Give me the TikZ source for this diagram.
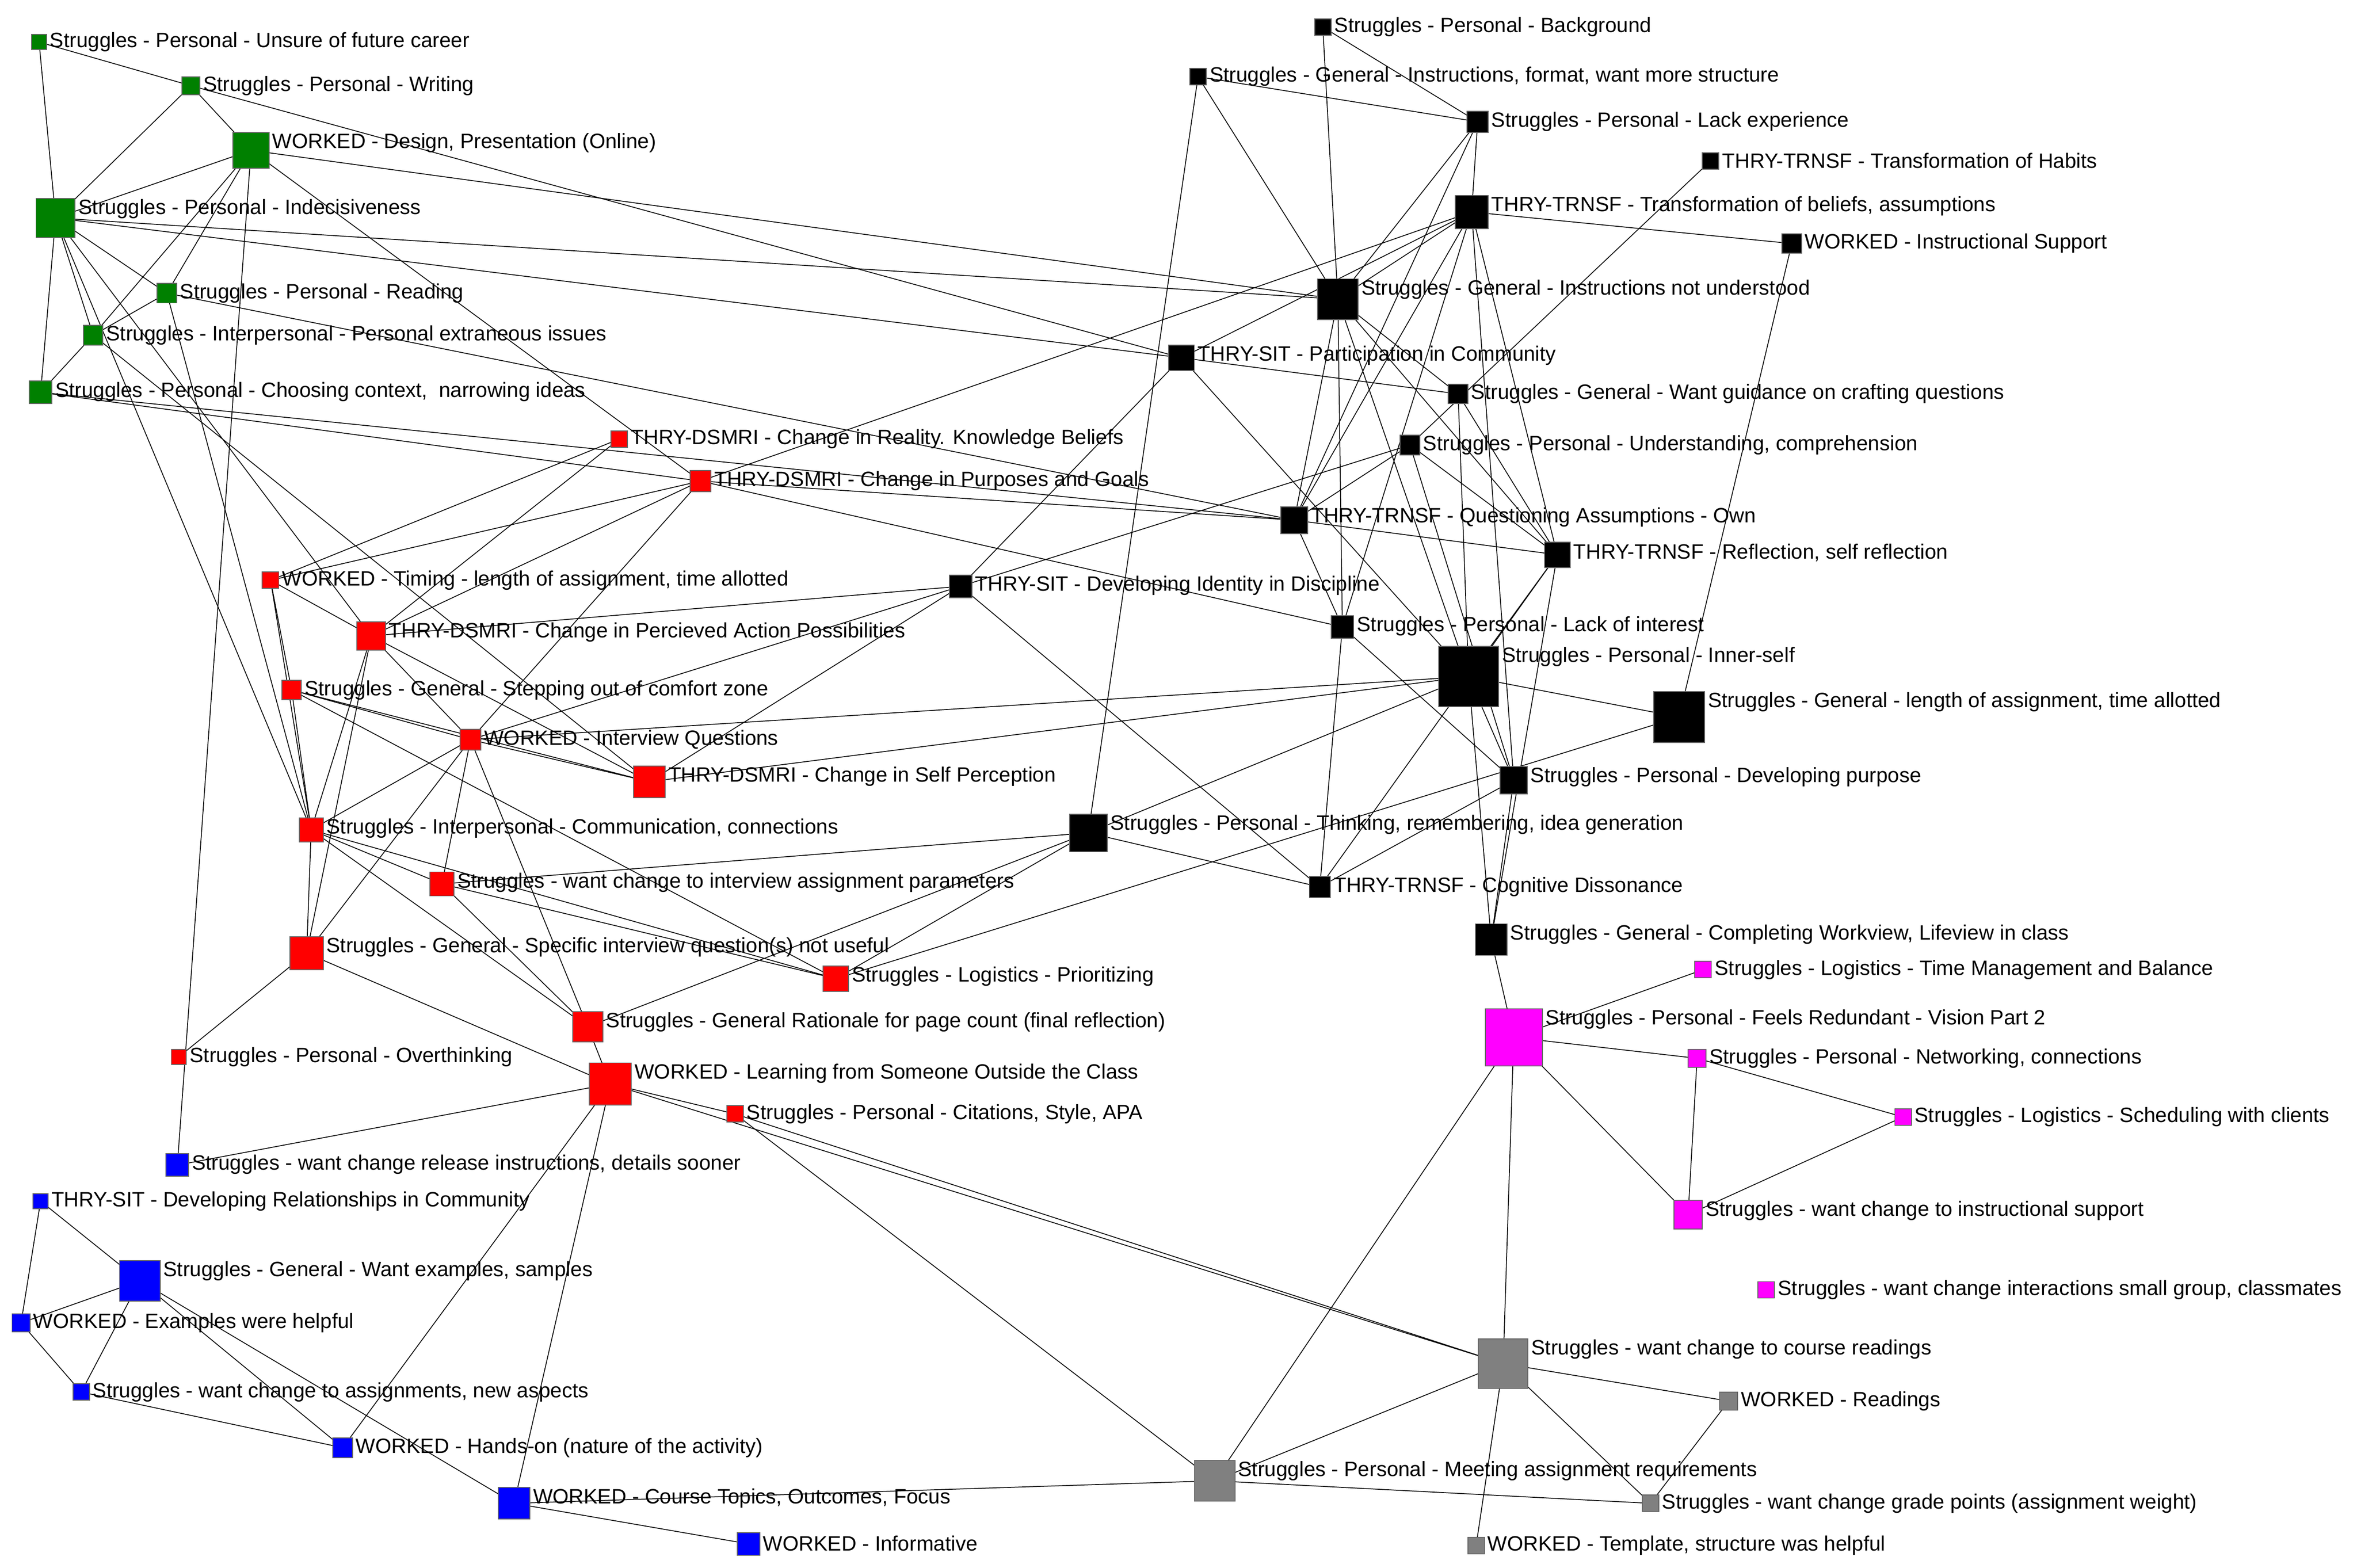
\documentclass[tikz,border=0pt]{standalone}
\usepackage{fontspec}
\setmainfont{Liberation Sans}
\usetikzlibrary{backgrounds}
\definecolor{cg}{HTML}{008000}
\definecolor{cr}{HTML}{FF0000}
\definecolor{ck}{HTML}{000000}
\definecolor{cm}{HTML}{FF00FF}
\definecolor{cb}{HTML}{0000FF}
\definecolor{cy}{HTML}{808080}
\tikzset{nd/.style={draw=black!60,line width=0.6pt,inner sep=0pt,outer sep=0pt},
lbl/.style={anchor=west,inner sep=0pt,font=\fontsize{13.8}{16}\selectfont},
ed/.style={line width=0.55pt,black}}
\newcommand\nd[6]{\node[nd,fill=#5,minimum size=#4pt] (#1) at (#2,#3) {};
\pgfmathsetmacro\lblx{#2+#4/2+2}\pgfmathsetmacro\lbly{#3-#4/2+min(#4/2,7)}
\node[lbl] (#1l) at (\lblx,\lbly) {#6};}
\newcommand\E[2]{\foreach \t in {#2}{\draw[ed] (#1.center) -- (\t.center);}}
\begin{document}
\begin{tikzpicture}[x=1pt,y=-1pt]
\useasboundingbox (0,0) rectangle (1568,1043);
% green
\nd{g1}{26}{28}{10}{cg}{Struggles - Personal - Unsure of future career}
\nd{g2}{127}{57}{12}{cg}{Struggles - Personal - Writing}
\nd{g3}{167}{100}{24}{cg}{WORKED - Design, Presentation (Online)}
\nd{g4}{37}{145}{26}{cg}{Struggles - Personal - Indecisiveness}
\nd{g5}{111}{195}{13}{cg}{Struggles - Personal - Reading}
\nd{g6}{62}{223}{13}{cg}{Struggles - Interpersonal - Personal extraneous issues}
\nd{g7}{27}{261}{15}{cg}{Struggles - Personal - Choosing context, \ narrowing ideas}
% red
\nd{r1}{412}{292}{11}{cr}{THRY-DSMRI - Change in Reality. Knowledge Beliefs}
\nd{r2}{466}{320}{14}{cr}{THRY-DSMRI - Change in Purposes and Goals}
\nd{r3}{180}{386}{11}{cr}{WORKED - Timing - length of assignment, time allotted}
\nd{r4}{247}{423}{19}{cr}{THRY-DSMRI - Change in Percieved Action Possibilities}
\nd{r5}{194}{459}{13}{cr}{Struggles - General - Stepping out of comfort zone}
\nd{r6}{313}{492}{14}{cr}{WORKED - Interview Questions}
\nd{r7}{432}{520}{21}{cr}{THRY-DSMRI - Change in Self Perception}
\nd{r8}{207}{552}{16}{cr}{Struggles - Interpersonal - Communication, connections}
\nd{r9}{294}{588}{16}{cr}{Struggles - want change to interview assignment parameters}
\nd{r10}{204}{634}{22}{cr}{Struggles - General - Specific interview question(s) not useful}
\nd{r11}{556}{651}{17}{cr}{Struggles - Logistics - Prioritizing}
\nd{r12}{391}{683}{20}{cr}{Struggles - General Rationale for page count (final reflection)}
\nd{r13}{119}{703}{10}{cr}{Struggles - Personal - Overthinking}
\nd{r14}{406}{721}{28}{cr}{WORKED - Learning from Someone Outside the Class}
\nd{r15}{489}{741}{11}{cr}{Struggles - Personal - Citations, Style, APA}
% black
\nd{k1}{880}{18}{11}{ck}{Struggles - Personal - Background}
\nd{k2}{797}{51}{11}{ck}{Struggles - General - Instructions, format, want more structure}
\nd{k3}{983}{81}{14}{ck}{Struggles - Personal - Lack experience}
\nd{k4}{1138}{107}{11}{ck}{THRY-TRNSF - Transformation of Habits}
\nd{k5}{979}{141}{22}{ck}{THRY-TRNSF - Transformation of beliefs, assumptions}
\nd{k6}{1192}{162}{13}{ck}{WORKED - Instructional Support}
\nd{k7}{890}{199}{27}{ck}{Struggles - General - Instructions not understood}
\nd{k8}{786}{238}{17}{ck}{THRY-SIT - Participation in Community}
\nd{k9}{970}{262}{13}{ck}{Struggles - General - Want guidance on crafting questions}
\nd{k10}{938}{296}{13}{ck}{Struggles - Personal - Understanding, comprehension}
\nd{k11}{861}{346}{18}{ck}{THRY-TRNSF - Questioning Assumptions - Own}
\nd{k12}{1036}{369}{17}{ck}{THRY-TRNSF - Reflection, self reflection}
\nd{k13}{639}{390}{15}{ck}{THRY-SIT - Developing Identity in Discipline}
\nd{k14}{893}{417}{15}{ck}{Struggles - Personal - Lack of interest}
\nd{k15}{977}{450}{40}{ck}{Struggles - Personal - Inner-self}
\nd{k16}{1117}{477}{34}{ck}{Struggles - General - length of assignment, time allotted}
\nd{k17}{1007}{519}{18}{ck}{Struggles - Personal - Developing purpose}
\nd{k18}{724}{554}{25}{ck}{Struggles - Personal - Thinking, remembering, idea generation}
\nd{k19}{878}{590}{14}{ck}{THRY-TRNSF - Cognitive Dissonance}
\nd{k20}{992}{625}{21}{ck}{Struggles - General - Completing Workview, Lifeview in class}
% magenta
\nd{m1}{1133}{645}{11}{cm}{Struggles - Logistics - Time Management and Balance}
\nd{m2}{1007}{690}{38}{cm}{Struggles - Personal - Feels Redundant - Vision Part 2}
\nd{m3}{1129}{704}{12}{cm}{Struggles - Personal - Networking, connections}
\nd{m4}{1266}{743}{11}{cm}{Struggles - Logistics - Scheduling with clients}
\nd{m5}{1123}{808}{19}{cm}{Struggles - want change to instructional support}
\nd{m6}{1175}{858}{11}{cm}{Struggles - want change interactions small group, classmates}
% blue
\nd{b1}{118}{775}{15}{cb}{Struggles - want change release instructions, details sooner}
\nd{b2}{27}{799}{10}{cb}{THRY-SIT - Developing Relationships in Community}
\nd{b3}{93}{852}{27}{cb}{Struggles - General - Want examples, samples}
\nd{b4}{14}{880}{12}{cb}{WORKED - Examples were helpful}
\nd{b5}{54}{926}{11}{cb}{Struggles - want change to assignments, new aspects}
\nd{b6}{228}{963}{13}{cb}{WORKED - Hands-on (nature of the activity)}
\nd{b7}{342}{1000}{21}{cb}{WORKED - Course Topics, Outcomes, Focus}
\nd{b8}{498}{1027}{15}{cb}{WORKED - Informative}
% gray
\nd{y1}{1000}{907}{33}{cy}{Struggles - want change to course readings}
\nd{y2}{1150}{932}{12}{cy}{WORKED - Readings}
\nd{y3}{808}{985}{27}{cy}{Struggles - Personal - Meeting assignment requirements}
\nd{y4}{1098}{1000}{11}{cy}{Struggles - want change grade points (assignment weight)}
\nd{y5}{982}{1028}{11}{cy}{WORKED - Template, structure was helpful}
\begin{pgfonlayer}{background}
\fill[white] (0,0) rectangle (1568,1043);
\E{g1}{g4,g2}
\E{g2}{g4,g3,k8}
\E{g3}{g4,g5,g6,k7,r2,b1}
\E{g4}{k7,k8,g5,g6,g7,r4,r8}
\E{g5}{g6,k11,r8}
\E{g6}{r7,g7}
\E{g7}{r2,k11}
\E{r1}{r4,r3}
\E{r2}{r3,r4,r6,k11,k14,k5}
\E{r3}{r5,r4,r8}
\E{r4}{r6,r8,r10,r7,k13}
\E{r5}{r8,r6,r7,r11}
\E{r6}{r7,r8,r9,r10,k13}
\E{r7}{k13,k15}
\E{r8}{r9,r10,r11,r12}
\E{r9}{r12,k18,r11}
\E{r10}{r13,r14}
\E{r11}{k18,k16}
\E{r12}{r14,r6}
\E{r14}{r15,b7,b1,b6,y1}
\E{r15}{y1,y3}
\E{k1}{k7,k3}
\E{k2}{k3,k7,k18}
\E{k3}{k5,k7,k11}
\E{k5}{k7,k6,k8,k11,k14,k12,k17}
\E{k4}{k10}
\E{k6}{k16}
\E{k7}{k11,k14,k15,k12,k9}
\E{k8}{k9,k13,k15}
\E{k9}{k15,k12}
\E{k10}{k11,k12,k13,k17}
\E{k11}{k14,k12}
\E{k12}{k15,k19,k20}
\E{k13}{k19}
\E{k14}{k17,k19}
\E{k15}{k16,k17,k20,k18,r6}
\E{k17}{k19,k20}
\E{k18}{k19,r12}
\E{k20}{m2}
\E{m2}{m3,m5,m1,y1,y3}
\E{m3}{m5,m4}
\E{m4}{m5}
\E{b2}{b3,b4}
\E{b3}{b4,b5,b6,b7}
\E{b4}{b5}
\E{b5}{b6}
\E{b7}{b8,y3}
\E{y1}{y2,y3,y4,y5}
\E{y2}{y4}
\E{y3}{y4}
\end{pgfonlayer}
\end{tikzpicture}
\end{document}
